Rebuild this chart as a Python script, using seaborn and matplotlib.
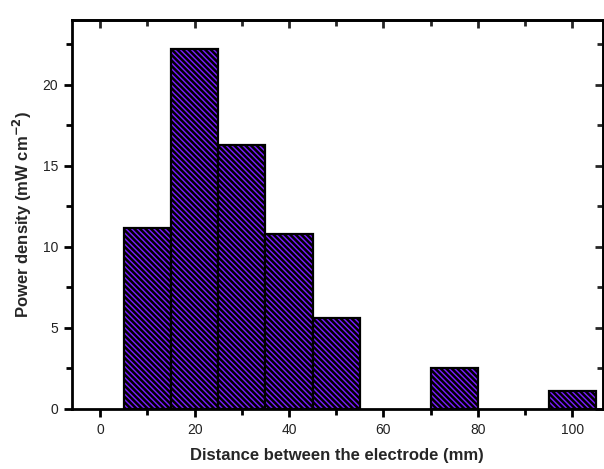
import matplotlib
matplotlib.use("Agg")
import matplotlib.pyplot as plt
import seaborn as sns
import numpy as np

# Bin centres (mm) and measured power density (mW cm^-2)
distance_mm = [10, 20, 30, 40, 50, 75, 100]
power_density = [11.2, 22.2, 16.3, 10.8, 5.6, 2.5, 1.1]

x_ticks = [0, 20, 40, 60, 80, 100]
y_ticks = [0, 5, 10, 15, 20]

sns.set_theme(style="white")
plt.rcParams["font.family"] = ["Liberation Sans", "DejaVu Sans"]
plt.rcParams["hatch.linewidth"] = 1.8
plt.rcParams["hatch.color"] = "black"

fig = plt.figure(figsize=(6.04, 4.69), dpi=100)
ax = fig.add_axes([0.119, 0.128, 0.879, 0.829])

sns.barplot(x=distance_mm, y=power_density, native_scale=True, width=1.0,
            color="#7a1cff", saturation=1, edgecolor="black", linewidth=1.6,
            hatch="\\" * 6, ax=ax)

ax.set_xlim(-6, 106.5)
ax.set_ylim(0, 24)
ax.set_xticks(x_ticks)
ax.set_xticks([10, 30, 50, 70, 90], minor=True)
ax.set_yticks(y_ticks)
ax.set_yticks([2.5, 7.5, 12.5, 17.5, 22.5], minor=True)
ax.set_xticklabels([str(t) for t in x_ticks], fontsize=10)
ax.set_yticklabels([str(t) for t in y_ticks], fontsize=10)

ax.tick_params(which="major", direction="out", length=6, width=2, color="black",
               left=True, bottom=True, pad=4, labelcolor="#222222")
ax.tick_params(which="minor", direction="out", length=4, width=2, color="black",
               left=True, bottom=True)

for side in ["left", "bottom", "top", "right"]:
    ax.spines[side].set_visible(True)
    ax.spines[side].set_color("black")
    ax.spines[side].set_linewidth(2)

# Inward ticks on the top and right frame edges
top = ax.secondary_xaxis("top")
top.set_xticks(x_ticks)
top.set_xticks([10, 30, 50, 70, 90], minor=True)
top.tick_params(which="major", direction="in", length=6, width=2, labeltop=False)
top.tick_params(which="minor", direction="in", length=4, width=2)
top.spines["top"].set_linewidth(2)

right = ax.secondary_yaxis("right")
right.set_yticks(y_ticks)
right.set_yticks([2.5, 7.5, 12.5, 17.5, 22.5], minor=True)
right.tick_params(which="major", direction="in", length=6, width=2, labelright=False)
right.tick_params(which="minor", direction="in", length=4, width=2)
right.spines["right"].set_linewidth(2)

ax.set_xlabel("Distance between the electrode (mm)", fontsize=12,
              fontweight="bold", labelpad=8)
ax.set_ylabel(r"Power density (mW cm$^{\mathbf{-2}}$)", fontsize=12,
              fontweight="bold", labelpad=6)

fig.savefig("out.png", dpi=100)
